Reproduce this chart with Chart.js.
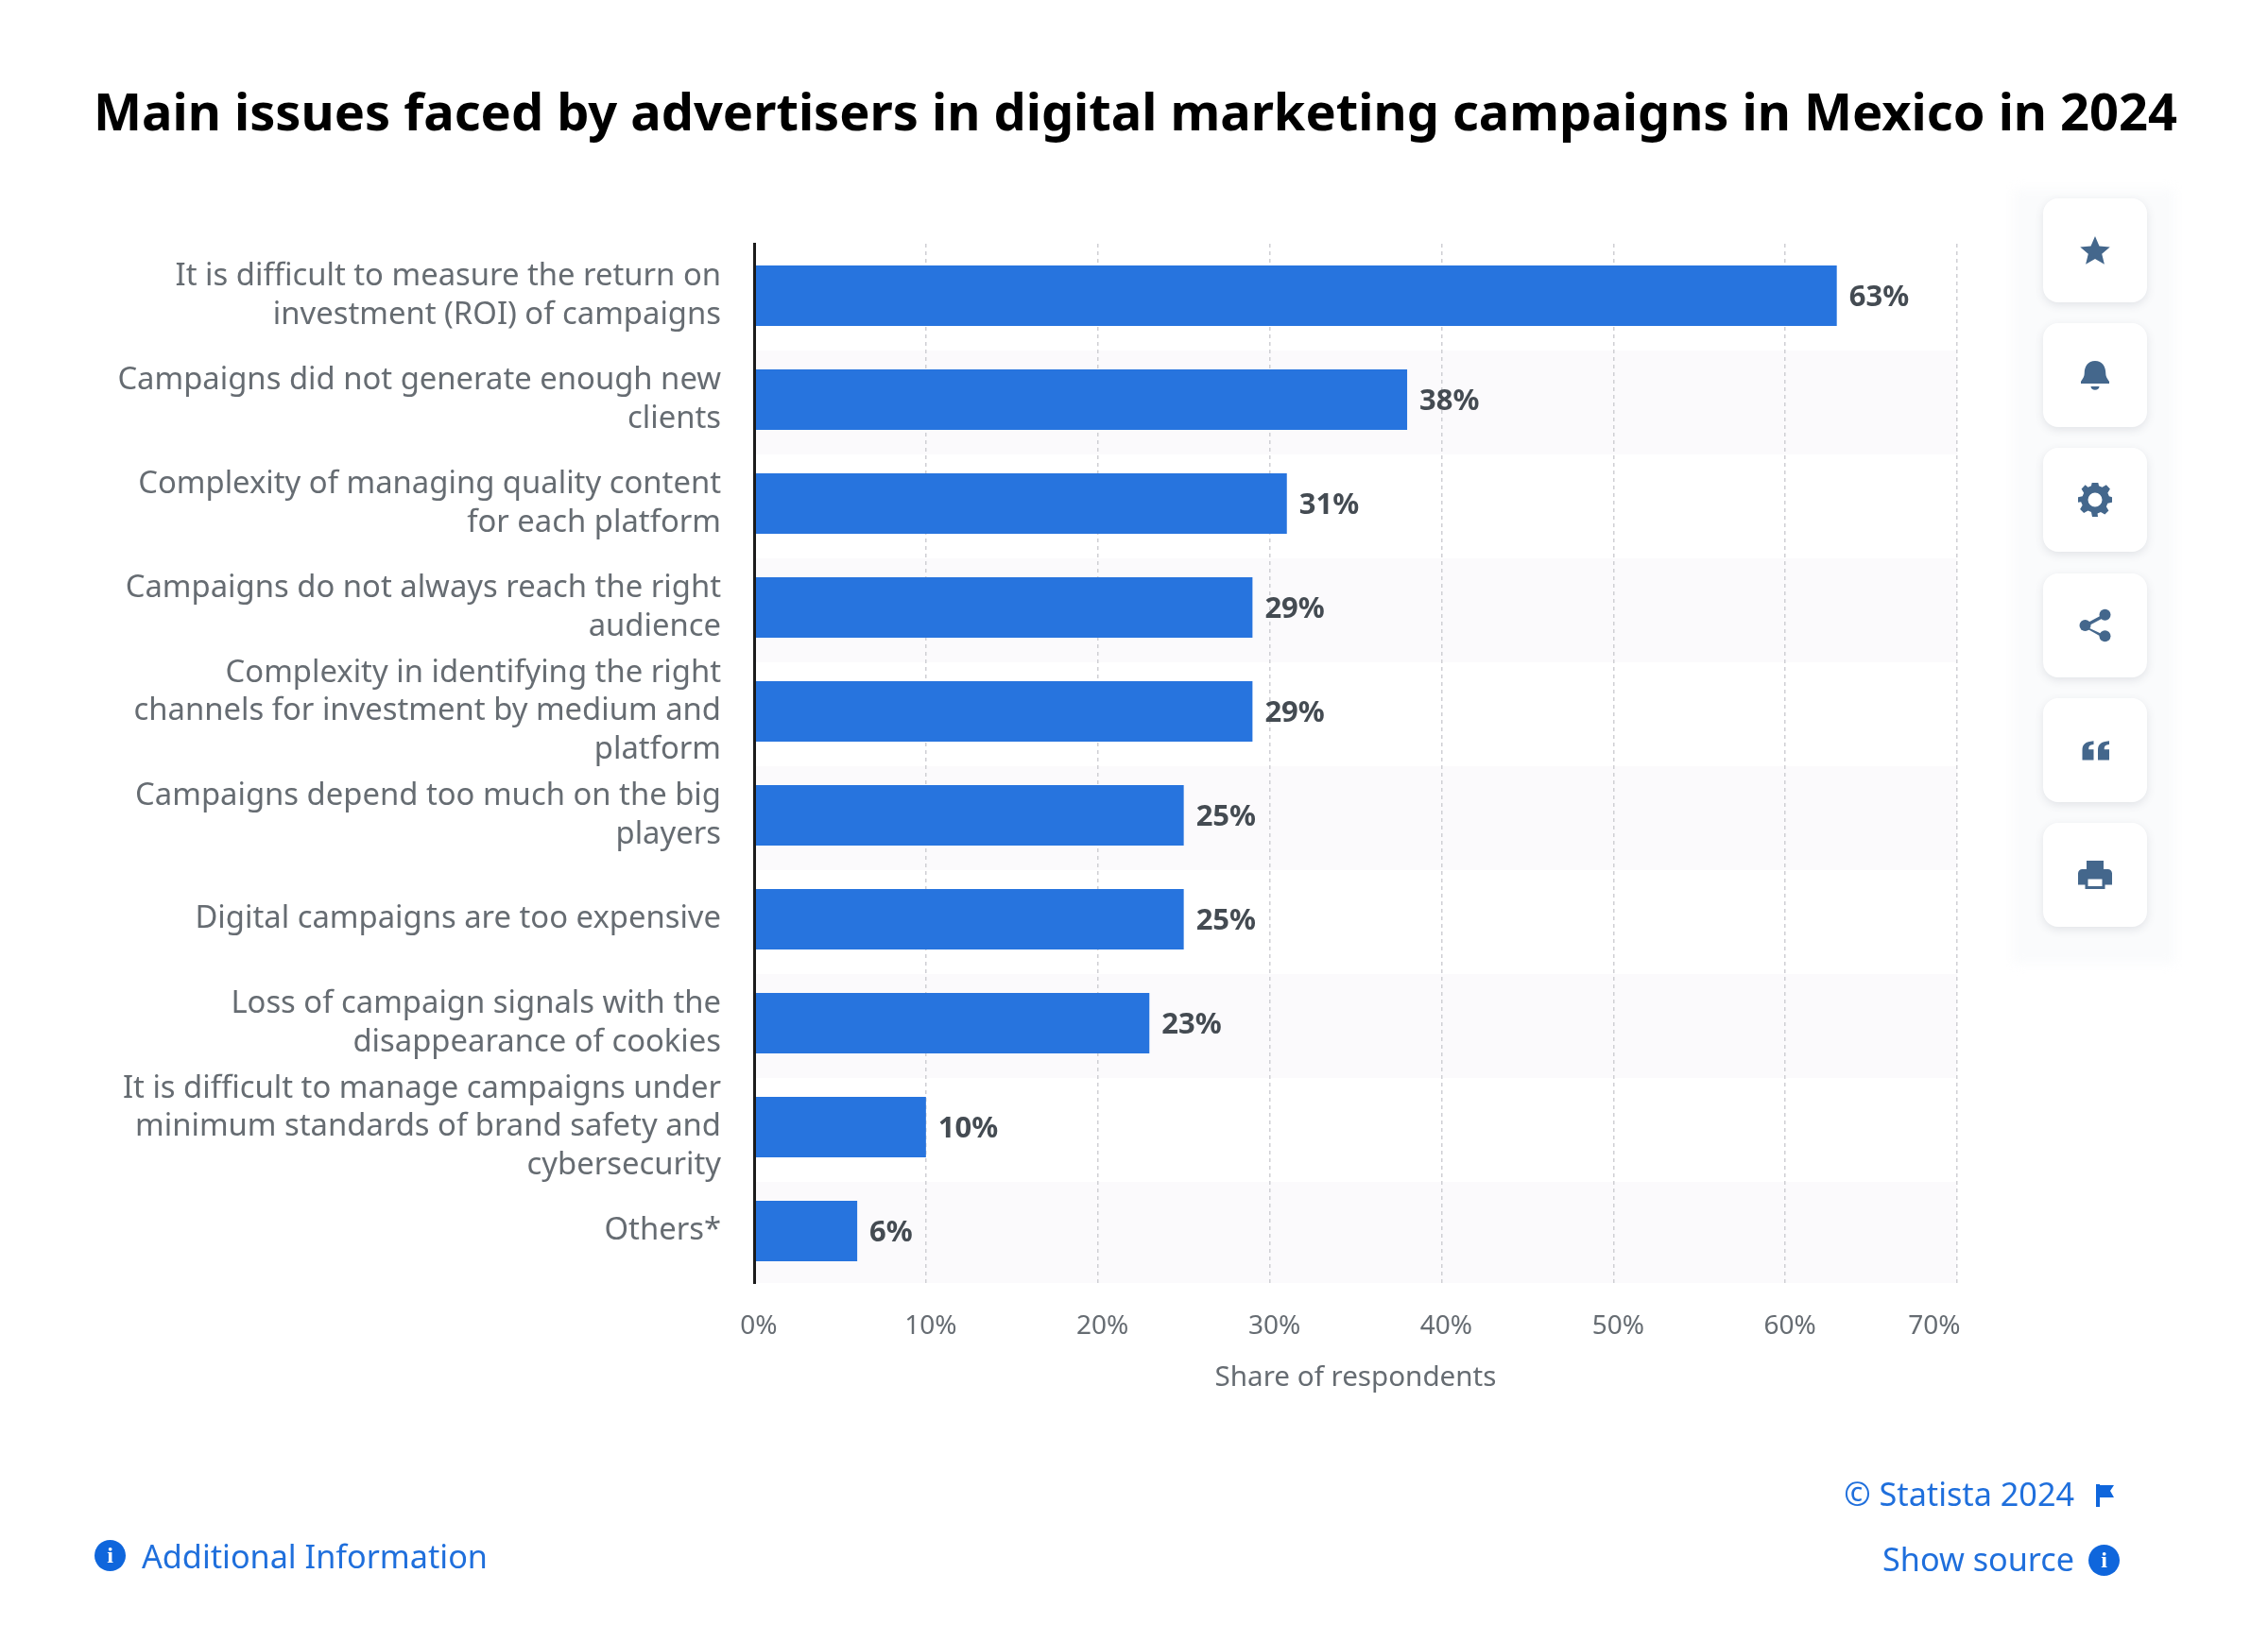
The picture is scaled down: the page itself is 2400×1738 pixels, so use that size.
<!DOCTYPE html>
<html>
<head>
<meta charset="utf-8">
<title>Main issues faced by advertisers</title>
<script src="https://cdn.jsdelivr.net/npm/chart.js@4"></script>
<style>
    html, body { margin: 0; padding: 0; background: #fff; }
    body { width: 2400px; height: 1738px; position: relative; overflow: hidden; font-family: "Noto Sans", sans-serif; }
    #chartBox { position: absolute; left: 0; top: 0; width: 2400px; height: 1738px; }
    #title { position: absolute; left: 99px; top: 82px; font-size: 54.15px; line-height: 70px; font-weight: 700; color: #000; white-space: nowrap; }
    .panel { position: absolute; left: 2130px; top: 200px; width: 172px; height: 820px; background: #fafbfc; filter: blur(6px); }
    .card { position: absolute; left: 2162px; width: 110px; height: 110px; border-radius: 16px; background: #fff; box-shadow: 0 3px 10px rgba(60, 70, 90, 0.13); }
    .card svg { position: absolute; left: 37px; top: 37px; width: 36px; height: 36px; fill: #44678c; }
    .link { position: absolute; color: #1f6fdc; font-size: 34.2px; line-height: 46px; white-space: nowrap; }
    .dot { position: absolute; width: 33px; height: 33px; border-radius: 50%; background: #0f66dc; color: #fff; font: 700 24px/33px "Liberation Serif", serif; text-align: center; }
</style>
</head>
<body>
<div class="panel"></div>
<div id="chartBox"><canvas id="issuesChart"></canvas></div>
<div id="title">Main issues faced by advertisers in digital marketing campaigns in Mexico in 2024</div>

<div class="card" style="top:210px"><svg viewBox="0 0 24 24"><path d="M12 2l3 7 7.500.6-5.700 4.900 1.800 7.300L12 18l-6.600 3.800 1.800-7.300L1.500 9.600 9 9z"/></svg></div>
<div class="card" style="top:342px"><svg viewBox="0 0 24 24"><path d="M12 2c5 0 7.500 4 7.500 8.500 0 3 1.500 4.500 2.500 6v1.500H2v-1.500c1-1.500 2.500-3 2.500-6C4.500 6 7 2 12 2zM9 20h6c0 1.500-1.300 2.500-3 2.500S9 21.500 9 20z"/></svg></div>
<div class="card" style="top:474px"><svg viewBox="0 0 24 24"><path fill-rule="evenodd" d="M10 1h4l.7 3.200 2.300 1 2.900-1.700 2.700 2.800-1.700 2.800 1 2.400L24 12.200v3.600l-3.100.7-1 2.400 1.700 2.800-2.700 2.700-2.900-1.700-2.300 1L14 26h-4l-.7-3.300-2.300-1-2.900 1.700-2.700-2.700 1.700-2.800-1-2.400L0 15.800v-3.600l3.100-.7 1-2.400-1.700-2.800 2.700-2.800L7 5.200l2.300-1zM12 9a5 5 0 1 0 0 10 5 5 0 0 0 0-10z" transform="translate(0 -2)"/></svg></div>
<div class="card" style="top:607px"><svg viewBox="0 0 24 24"><circle cx="5" cy="12" r="4"/><circle cx="19" cy="4.500" r="4"/><circle cx="19" cy="19.500" r="4"/><path d="M5 11l14-7.500 1 2L6 13l14 6.500-1 2L4 13z"/></svg></div>
<div class="card" style="top:739px"><svg viewBox="0 0 24 24"><path d="M3 19v-7c0-4 2-6 8-6.500V8c-3 .3-3.500 1.200-3.500 3.500H11V19zM14 19v-7c0-4 2-6 8-6.500V8c-3 .3-3.500 1.200-3.500 3.500H22V19z"/></svg></div>
<div class="card" style="top:871px"><svg viewBox="0 0 24 24"><path fill-rule="evenodd" d="M6 2h12v6H6zM3 8h18a3 3 0 0 1 3 3v8h-5v3H5v-3H0v-8a3 3 0 0 1 3-3zM7 15v5h10v-5z"/></svg></div>

<div class="dot" style="left:100px;top:1630px">i</div>
<div class="link" style="left:150px;top:1624px">Additional Information</div>
<div class="link" style="right:205px;top:1558px">© Statista 2024</div>
<svg style="position:absolute;left:2217px;top:1570px;width:22px;height:26px" viewBox="0 0 22 26"><path fill="#0f66dc" d="M1 1h4v24H1zM5 2h15l-4 6 4 7H5z"/></svg>
<div class="link" style="right:205px;top:1627px">Show source</div>
<div class="dot" style="left:2210px;top:1635px">i</div>

<script>
const categories = [
    ['It is difficult to measure the return on', 'investment (ROI) of campaigns'],
    ['Campaigns did not generate enough new', 'clients'],
    ['Complexity of managing quality content', 'for each platform'],
    ['Campaigns do not always reach the right', 'audience'],
    ['Complexity in identifying the right', 'channels for investment by medium and', 'platform'],
    ['Campaigns depend too much on the big', 'players'],
    'Digital campaigns are too expensive',
    ['Loss of campaign signals with the', 'disappearance of cookies'],
    ['It is difficult to manage campaigns under', 'minimum standards of brand safety and', 'cybersecurity'],
    'Others*'
];
const shares = [63, 38, 31, 29, 29, 25, 25, 23, 10, 6];
const xTickMax = 70;
const xTickStep = 10;

// stripes behind every second category
const bandPlugin = {
    id: 'bands',
    beforeDraw(chart) {
        const { ctx, scales: { x, y } } = chart;
        const band = y.getPixelForValue(1) - y.getPixelForValue(0);
        ctx.save();
        ctx.fillStyle = '#fbfafc';
        categories.forEach((c, i) => {
            if (i % 2 === 1) {
                const top = y.getPixelForValue(i) - band / 2 + 3;
                ctx.fillRect(x.left, top, x.right - x.left, Math.min(band, y.bottom - top));
            }
        });
        ctx.restore();
    }
};

// value labels at the end of the bars
const valueLabelPlugin = {
    id: 'valueLabels',
    afterDatasetsDraw(chart) {
        const { ctx } = chart;
        ctx.save();
        ctx.font = '700 31px "Noto Sans"';
        ctx.fillStyle = '#444b52';
        ctx.textAlign = 'left';
        ctx.textBaseline = 'middle';
        chart.getDatasetMeta(0).data.forEach((bar, i) => {
            ctx.fillText(shares[i] + '%', bar.x + 13, bar.y + 2.5);
        });
        ctx.restore();
    }
};

new Chart(document.getElementById('issuesChart'), {
    type: 'bar',
    data: {
        labels: categories,
        datasets: [{
            data: shares,
            backgroundColor: '#2774de',
            categoryPercentage: 1,
            barPercentage: 0.58
        }]
    },
    plugins: [bandPlugin, valueLabelPlugin],
    options: {
        indexAxis: 'y',
        responsive: true,
        maintainAspectRatio: false,
        animation: false,
        devicePixelRatio: 1,
        layout: { padding: { top: 258, right: 329, bottom: 261.5, left: 0 } },
        plugins: { legend: { display: false }, tooltip: { enabled: false } },
        scales: {
            x: {
                min: 0,
                max: xTickMax,
                afterFit(scale) { scale.height = 118.5; },
                grid: { color: '#cfcfd4', lineWidth: 1.5, drawTicks: false },
                border: { display: false, dash: [4, 4] },
                ticks: {
                    stepSize: xTickStep,
                    autoSkip: false,
                    maxRotation: 0,
                    padding: 29.5,
                    labelOffset: 5,
                    color: '#666c72',
                    font: { family: 'Noto Sans', size: 28 },
                    // last label sits inside the plot edge
                    callback: v => v === xTickMax ? v + '%        ' : v + '%'
                },
                title: {
                    display: true,
                    text: 'Share of respondents',
                    color: '#666c72',
                    font: { family: 'Noto Sans', size: 29.6 },
                    padding: 0
                }
            },
            y: {
                afterFit(scale) { scale.width = 798; },
                grid: { display: false, drawTicks: false },
                border: { display: true, color: '#1b1b1b', width: 3, z: 1 },
                ticks: {
                    autoSkip: false,
                    padding: 35,
                    color: '#666c72',
                    font: { family: 'Noto Sans', size: 32.8, lineHeight: 1.24 }
                }
            }
        }
    }
});
</script>
</body>
</html>
